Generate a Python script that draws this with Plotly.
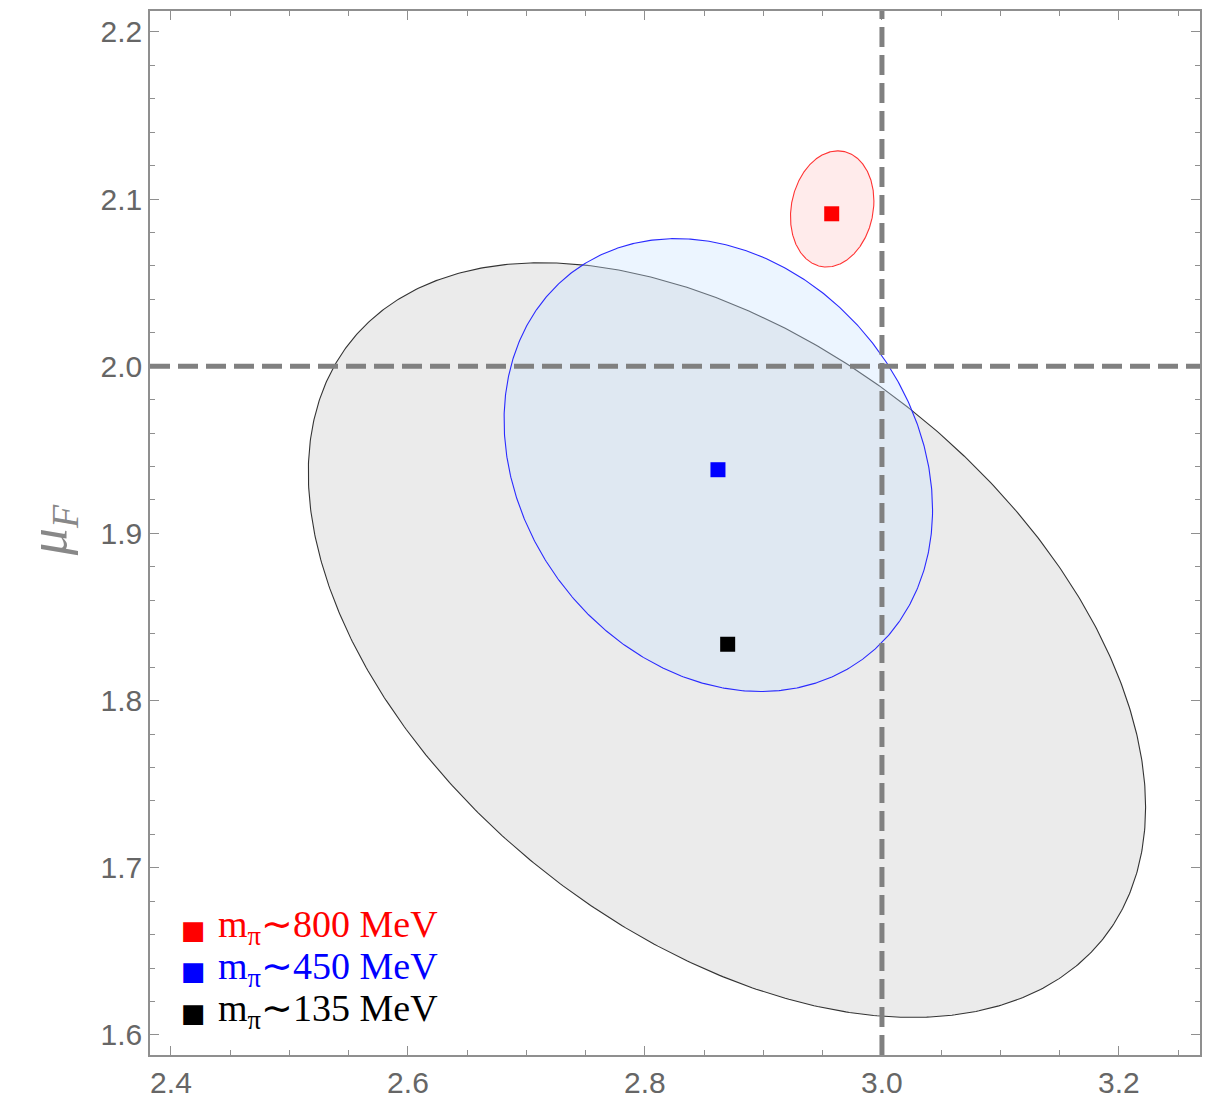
import numpy as np
import plotly.graph_objects as go

# ---- data ----
labels = ["m<sub>π</sub>∼800 MeV", "m<sub>π</sub>∼450 MeV", "m<sub>π</sub>∼135 MeV"]
colors = ["#ff0000", "#0000ff", "#000000"]
point_x = [2.9576, 2.8616, 2.8698]
point_y = [2.0912, 1.9381, 1.8337]
# ellipse parameters: center, semi-extent in x, semi-extent in y, correlation
ell_cx = [2.958, 2.8619, 2.8692]
ell_cy = [2.0941, 1.9409, 1.8362]
ell_ax = [0.0352, 0.1808, 0.3533]
ell_by = [0.03475, 0.13546, 0.2257]
ell_rho = [0.137, -0.197, -0.443]
ell_fill = ["rgba(255,0,0,0.08)", "rgba(200,225,255,0.35)", "rgba(0,0,0,0.08)"]
ell_line = ["#ff3333", "#2a2aff", "#333333"]

x_ticks = [2.4, 2.6, 2.8, 3.0, 3.2]
y_ticks = [1.6, 1.7, 1.8, 1.9, 2.0, 2.1, 2.2]
ref_x = 3.0
ref_y = 2.0

fig = go.Figure()

t = np.linspace(0, 2 * np.pi, 721)
# draw black first, then blue, then red
for i in [2, 1, 0]:
    d = np.arccos(ell_rho[i])
    ex = ell_cx[i] + ell_ax[i] * np.cos(t)
    ey = ell_cy[i] + ell_by[i] * np.cos(t - d)
    fig.add_trace(go.Scatter(x=ex, y=ey, mode="lines", fill="toself",
                             fillcolor=ell_fill[i],
                             line=dict(color=ell_line[i], width=1.1),
                             showlegend=False, hoverinfo="skip"))

for i in range(3):
    fig.add_trace(go.Scatter(
        x=[point_x[i]], y=[point_y[i]], mode="markers",
        marker=dict(symbol="square", size=15, color=colors[i]),
        name=labels[i], showlegend=False))

dash = dict(color="#808080", width=5, dash="20px,8px")
fig.add_shape(type="line", xref="x", yref="paper", x0=ref_x, x1=ref_x, y0=0, y1=1,
              line=dash, layer="above")
fig.add_shape(type="line", xref="paper", yref="y", x0=0, x1=1, y0=ref_y, y1=ref_y,
              line=dash, layer="above")

axis_common = dict(
    showline=True, linecolor="#8f8f8f", linewidth=1.5, mirror="ticks",
    ticks="inside", ticklen=9, tickwidth=1.2, tickcolor="#8f8f8f",
    showgrid=False, zeroline=False,
    tickfont=dict(family="Liberation Sans, Arial, sans-serif", size=30, color="#666666"),
)

fig.update_xaxes(range=[2.3823, 3.2684], tickvals=x_ticks,
                 ticktext=[f"{v:.1f}" for v in x_ticks],
                 minor=dict(dtick=0.05, ticks="inside", ticklen=5, tickcolor="#8f8f8f", showgrid=False),
                 **axis_common)
fig.update_yaxes(range=[1.588, 2.2125], tickvals=y_ticks,
                 ticktext=[f"{v:.1f}" for v in y_ticks],
                 minor=dict(dtick=0.02, ticks="inside", ticklen=5, tickcolor="#8f8f8f", showgrid=False),
                 **axis_common)

fig.add_annotation(text="<i>μ</i><sub><i>F</i></sub>", xref="paper", yref="paper",
                   x=-0.093, y=0.503, xanchor="center", yanchor="middle",
                   textangle=-90, showarrow=False,
                   font=dict(family="Liberation Serif, Times New Roman, serif", size=54, color="#888888"))

# legend built from annotations (key square + coloured label)
legend_y = [0.1222, 0.0821, 0.0420]
for i in range(3):
    fig.add_annotation(text="■", xref="paper", yref="paper", x=0.041, y=legend_y[i] - 0.002,
                       xanchor="center", yanchor="middle", showarrow=False,
                       font=dict(family="DejaVu Sans", size=26, color=colors[i]))
    fig.add_annotation(text=labels[i], xref="paper", yref="paper", x=0.063, y=legend_y[i],
                       xanchor="left", yanchor="middle", showarrow=False,
                       font=dict(family="Liberation Serif, Times New Roman, serif", size=38,
                                 color=colors[i]))

fig.update_layout(
    width=1201, height=1092,
    margin=dict(l=142, r=9, t=1, b=43),
    paper_bgcolor="white", plot_bgcolor="white",
    showlegend=False,
)

fig.write_html("out.html")
